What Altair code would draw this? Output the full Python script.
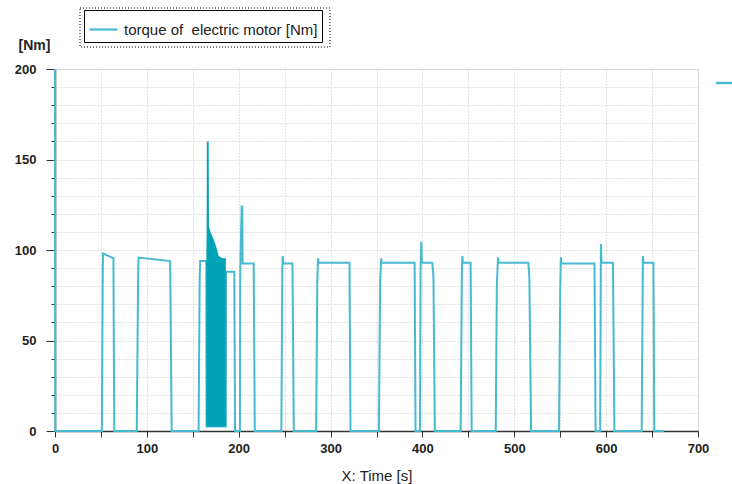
import altair as alt
import pandas as pd

# main torque trace (time [s], torque [Nm])
t_vals = [0, 0.3, 51, 52, 52.3, 63.6, 64.5, 89, 90.5, 91, 125.4, 127,
          156.3, 157.5, 158.1, 164.7, 165, 186, 186.2, 195.2, 196,
          201.3, 201.7, 203.2, 203.9, 204.2, 216.3, 217.5,
          246.4, 247.5, 247.9, 248.5, 258.5, 260,
          284.3, 285.5, 286.4, 287, 320.6, 321.7,
          352.6, 354, 355.1, 355.5, 391.5, 392.5,
          397.3, 398, 398.8, 399.3, 410.7, 412, 413.5,
          441.6, 443, 443.5, 444, 452.5, 453.6,
          479.8, 481, 482.3, 482.8, 515.3, 516.4, 518.3,
          548.7, 550, 550.7, 551.2, 587.3, 588.5,
          593.5, 594.3, 595, 607.4, 609,
          638.7, 640, 640.5, 651.5, 652.4, 663]
torque_vals = [200, 0, 0, 89, 98, 95.5, 0, 0, 85, 95.8, 93.9, 0,
               0, 85, 93.9, 93.9, 2.5, 2.5, 88, 88, 0,
               0, 89, 124, 124, 92.6, 92.6, 0,
               0, 90, 96.7, 92.6, 92.6, 0,
               0, 82, 95.4, 93, 93, 0,
               0, 83, 95.4, 93, 93, 0,
               0, 90, 104.6, 93, 93, 85, 0,
               0, 90, 96.7, 93, 93, 0,
               0, 80, 96, 93, 93, 85, 0,
               0, 77, 96, 92.5, 92.5, 0,
               0, 103.4, 93, 93, 0,
               0, 96.7, 93, 93, 0, 0]

# dense oscillation band (envelope)
osc_t = [164.7, 165.1, 165.3, 167.3, 167.6, 170, 173, 176, 178, 180, 183, 186]
osc_hi = [93.9, 110, 160, 160, 113, 109, 105.5, 101, 97, 96, 95.5, 95.4]
osc_lo = [2.5, 2.5, 2.5, 2.5, 2.5, 2.5, 2.5, 2.5, 2.5, 2.5, 2.5, 2.5]

series_name = "torque of \u00a0electric motor [Nm]"
x_ticks = list(range(0, 701, 50))
y_ticks = list(range(0, 201, 10))

LINE = "#47B9D0"
DENSE = "#00A2B8"
FONT = "Liberation Sans"

df = pd.DataFrame({"t": t_vals, "T": torque_vals, "i": range(len(t_vals)),
                   "series": series_name})
osc = pd.DataFrame({"t": osc_t, "hi": osc_hi, "lo": osc_lo})

x_axis = alt.Axis(values=x_ticks, labelExpr="datum.value % 100 === 0 ? datum.label : ''",
                  title="X: Time [s]", titleFont=FONT, titleFontSize=15, titleFontWeight="normal",
                  titleColor="#222", titleY=44, titleBaseline="middle",
                  labelFont=FONT, labelFontSize=13, labelFontWeight="bold", labelColor="#222",
                  labelPadding=5, tickSize=6, tickColor="#333", domainColor="#333",
                  domainWidth=1.5, gridColor="#c4c4c4", gridDash=[1, 2], labelFlush=False,
                  labelOverlap=False, zindex=0)
y_axis = alt.Axis(values=y_ticks, labelExpr="datum.value % 50 === 0 ? datum.label : ''",
                  title="[Nm]", titleFont=FONT, titleFontSize=14, titleFontWeight="bold",
                  titleColor="#222", titleAngle=0, titleX=-37, titleY=-24,
                  titleAlign="left", titleBaseline="middle",
                  labelFont=FONT, labelFontSize=13, labelFontWeight="bold", labelColor="#222",
                  labelPadding=10,
                  tickSize={"condition": {"test": "datum.value % 50 === 0", "value": 9}, "value": 4},
                  tickColor="#333", domainColor="#333", domainWidth=1.5,
                  gridColor="#c4c4c4", gridDash=[1, 2], labelFlush=False,
                  labelOverlap=False, zindex=0)

xs = alt.Scale(domain=[0, 700], nice=False)
ys = alt.Scale(domain=[0, 200], nice=False)

line = alt.Chart(df).mark_line(strokeWidth=2, clip=False).encode(
    x=alt.X("t:Q", scale=xs, axis=x_axis),
    y=alt.Y("T:Q", scale=ys, axis=y_axis),
    order=alt.Order("i:Q"),
    color=alt.Color("series:N", scale=alt.Scale(range=[LINE]),
                    legend=alt.Legend(orient="none", legendX=29, legendY=-59, title=None,
                                      strokeColor="black", fillColor="white", padding=4,
                                      symbolType="stroke", symbolSize=784, symbolStrokeWidth=2.2,
                                      labelFont=FONT, labelFontSize=15, labelColor="#222",
                                      labelOffset=5, cornerRadius=0, labelLimit=400)),
)

band = alt.Chart(osc).mark_area(color=DENSE, opacity=1, line=False).encode(
    x=alt.X("t:Q", scale=xs, axis=x_axis),
    y=alt.Y("hi:Q", scale=ys, axis=y_axis),
    y2="lo:Q",
)

outer_box = alt.Chart(pd.DataFrame({"a": [0]})).mark_rect(
    fill="white", fillOpacity=0, stroke="black", strokeWidth=1, strokeDash=[1, 2]
).encode(x=alt.value(25), x2=alt.value(275), y=alt.value(-61), y2=alt.value(-22))

side_marker = alt.Chart(pd.DataFrame({"a": [0]})).mark_rule(
    color=LINE, strokeWidth=2.5
).encode(x=alt.value(661), x2=alt.value(680), y=alt.value(14))

chart = alt.layer(line, band, outer_box, side_marker).properties(
    width=643, height=362,
    padding={"left": 55, "top": 69, "right": 34, "bottom": 53},
    autosize=alt.AutoSizeParams(type="none"),
).configure_view(stroke="#cfcfcf", strokeWidth=2).configure(background="white")

chart.save("out.html", embed_options={"renderer": "svg", "actions": False})
